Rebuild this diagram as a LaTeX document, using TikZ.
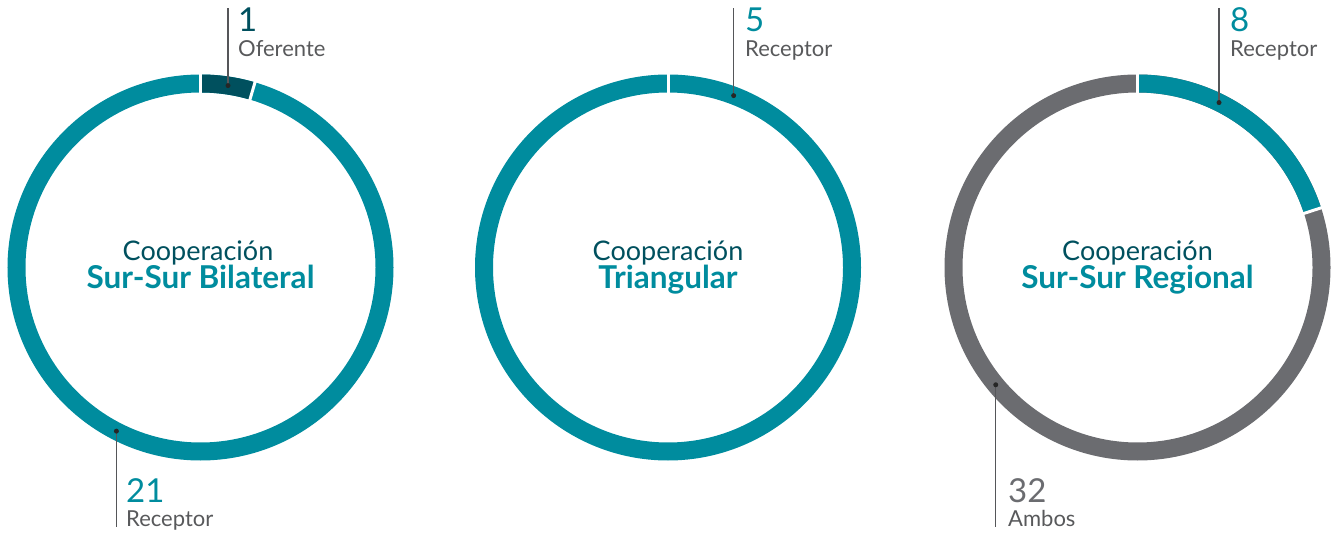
\documentclass[tikz,border=0pt]{standalone}
\usepackage{fontspec}
\setmainfont{Lato}
\usetikzlibrary{calc}
\definecolor{teal1}{HTML}{008C9E}
\definecolor{darkteal}{HTML}{00505E}
\definecolor{ringgray}{HTML}{6B6C70}
\definecolor{labelgray}{HTML}{58595B}
\definecolor{leadgray}{HTML}{555659}
\tikzset{
  ring/.style={line width=18pt},
  sep/.style={white, line width=3pt},
  leader/.style={draw=leadgray, line width=1.3pt},
  dotmark/.style={circle, fill=black!85, inner sep=0pt, minimum size=5pt},
  num/.style={anchor=base west, inner sep=0pt, font=\fontsize{33}{33}\selectfont},
  lab/.style={anchor=base west, inner sep=0pt, text=labelgray, font=\fontsize{22}{22}\selectfont},
  titleA/.style={anchor=base, inner sep=0pt, text=darkteal, font=\fontsize{27}{27}\selectfont},
  titleB/.style={anchor=base, inner sep=0pt, text=teal1, font=\fontsize{31.5}{31.5}\selectfont\bfseries},
}
\begin{document}
\begin{tikzpicture}[x=1pt,y=1pt]
\useasboundingbox (0,0) rectangle (1333,533);
\coordinate (c1) at (200.5,265.5);
\coordinate (c2) at (668,265.5);
\coordinate (c3) at (1137.5,265.5);
\coordinate (top) at (0,525);
\coordinate (bot) at (0,6);

% ring 1
\draw[ring, teal1] (c1) circle (184);
\draw[ring, darkteal] ($(c1)+(90:184)$) arc[start angle=90, end angle=73.6, radius=184];
\draw[sep] ($(c1)+(90:172)$) -- ($(c1)+(90:196)$);
\draw[sep] ($(c1)+(73.6:172)$) -- ($(c1)+(73.6:196)$);
% ring 2
\draw[ring, teal1] (c2) circle (184);
\draw[sep] ($(c2)+(90:172)$) -- ($(c2)+(90:196)$);
% ring 3
\draw[ring, ringgray] (c3) circle (184);
\draw[ring, teal1] ($(c3)+(90:184)$) arc[start angle=90, end angle=18, radius=184];
\draw[sep] ($(c3)+(90:172)$) -- ($(c3)+(90:196)$);
\draw[sep] ($(c3)+(18:172)$) -- ($(c3)+(18:196)$);

% titles
\node[titleA] (t1a) at (198,272.5) {Cooperación};
\node[titleB] (t1b) at (200.5,244.5) {Sur-Sur Bilateral};
\node[titleA] (t2a) at (668,272.5) {Cooperación};
\node[titleB] (t2b) at (668,244.5) {Triangular};
\node[titleA] (t3a) at (1137.5,272.5) {Cooperación};
\node[titleB] (t3b) at (1137.5,244.5) {Sur-Sur Regional};

% leaders
\coordinate (d1) at ($(c1)+(81.4:184)$);
\coordinate (d2) at ($(c1)+(242.8:184)$);
\coordinate (d3) at ($(c2)+(69.1:184)$);
\coordinate (d4) at ($(c3)+(63.7:184)$);
\coordinate (d5) at ($(c3)+(219.6:184)$);
\draw[leader] (d1) -- (d1 |- top);
\draw[leader] (d2) -- (d2 |- bot);
\draw[leader] (d3) -- (d3 |- top);
\draw[leader] (d4) -- (d4 |- top);
\draw[leader] (d5) -- (d5 |- bot);
\node[dotmark] (m1) at (d1) {};
\node[dotmark] (m2) at (d2) {};
\node[dotmark] (m3) at (d3) {};
\node[dotmark] (m4) at (d4) {};
\node[dotmark] (m5) at (d5) {};

% labels
\node[num, text=darkteal] (n1) at (238,501) {1};
\node[lab] (l1) at (238,476) {Oferente};
\node[num, text=teal1] (n2) at (126,31) {21};
\node[lab] (l2) at (126,7) {Receptor};
\node[num, text=teal1] (n3) at (745,501) {5};
\node[lab] (l3) at (745,476) {Receptor};
\node[num, text=teal1] (n4) at (1230,501) {8};
\node[lab] (l4) at (1230,476) {Receptor};
\node[num, text=ringgray] (n5) at (1008,31) {32};
\node[lab] (l5) at (1008,7) {Ambos};
\end{tikzpicture}
\end{document}
